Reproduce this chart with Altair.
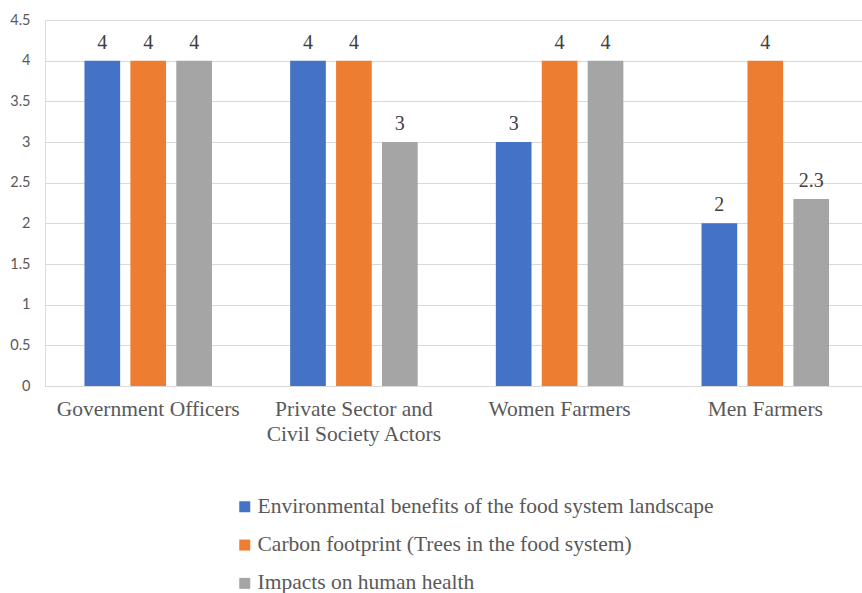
import altair as alt
import pandas as pd

groups = ["Government Officers", "Private Sector and Civil Society Actors", "Women Farmers", "Men Farmers"]
series = [
    "Environmental benefits of the food system landscape",
    "Carbon footprint (Trees in the food system)",
    "Impacts on human health",
]
environmental = [4, 4, 3, 2]
carbon = [4, 4, 4, 4]
health = [4, 3, 4, 2.3]
colors = ["#4472C4", "#ED7D31", "#A5A5A5"]
y_ticks = [0, 0.5, 1, 1.5, 2, 2.5, 3, 3.5, 4, 4.5]

rows = []
for s, vals in zip(series, [environmental, carbon, health]):
    for g, v in zip(groups, vals):
        rows.append({"group": g, "series": s, "value": v})
df = pd.DataFrame(rows)

# the long category name wraps onto two lines
label_expr = (
    "datum.value == 'Private Sector and Civil Society Actors' ? "
    "['Private Sector and', 'Civil Society Actors'] : datum.value"
)

x = alt.X(
    "group:N",
    sort=groups,
    title=None,
    scale=alt.Scale(paddingInner=0.38, paddingOuter=0.176, align=0.545, round=False),
    axis=alt.Axis(
        labelAngle=0,
        labelFont="Liberation Serif",
        labelFontSize=21.5,
        labelColor="#595959",
        labelLineHeight=25,
        labelPadding=12,
        labelLimit=300,
        labelExpr=label_expr,
        ticks=False,
        domainColor="#D9D9D9",
        grid=False,
    ),
)
xoff = alt.XOffset(
    "series:N", sort=series, scale=alt.Scale(paddingInner=0.223, paddingOuter=0, round=False)
)
y = alt.Y(
    "value:Q",
    title=None,
    scale=alt.Scale(domain=[0, 4.5]),
    axis=alt.Axis(
        values=y_ticks,
        format="~g",
        labelFont="Lato",
        labelFontSize=14.5,
        labelColor="#595959",
        labelPadding=15,
        ticks=False,
        domain=False,
        gridColor="#D9D9D9",
        gridWidth=1,
    ),
)

bars = alt.Chart(df).mark_bar().encode(
    x=x,
    xOffset=xoff,
    y=y,
    color=alt.Color(
        "series:N",
        sort=series,
        scale=alt.Scale(domain=series, range=colors),
        legend=alt.Legend(
            title=None,
            orient="none",
            legendX=189,
            legendY=476,
            direction="vertical",
            symbolType="square",
            symbolSize=121,
            symbolStrokeWidth=0,
            labelFont="Liberation Serif",
            labelFontSize=21.5,
            labelColor="#595959",
            labelLimit=700,
            rowPadding=15.3,
            labelOffset=2,
        ),
    ),
)

labels = alt.Chart(df).mark_text(
    font="Liberation Serif", fontSize=20, color="#404040", baseline="alphabetic", dy=-12
).encode(
    x=x,
    xOffset=xoff,
    y=y,
    text=alt.Text("value:Q"),
)

chart = (
    alt.layer(bars, labels)
    .properties(
        width=817,
        height=366,
        padding={"left": 45, "top": 20, "right": 0, "bottom": 207},
        autosize=alt.AutoSizeParams(type="none"),
    )
    .configure_view(stroke=None)
    .configure(background="white")
)

chart.save("out.html", embed_options={"renderer": "svg", "actions": False})
